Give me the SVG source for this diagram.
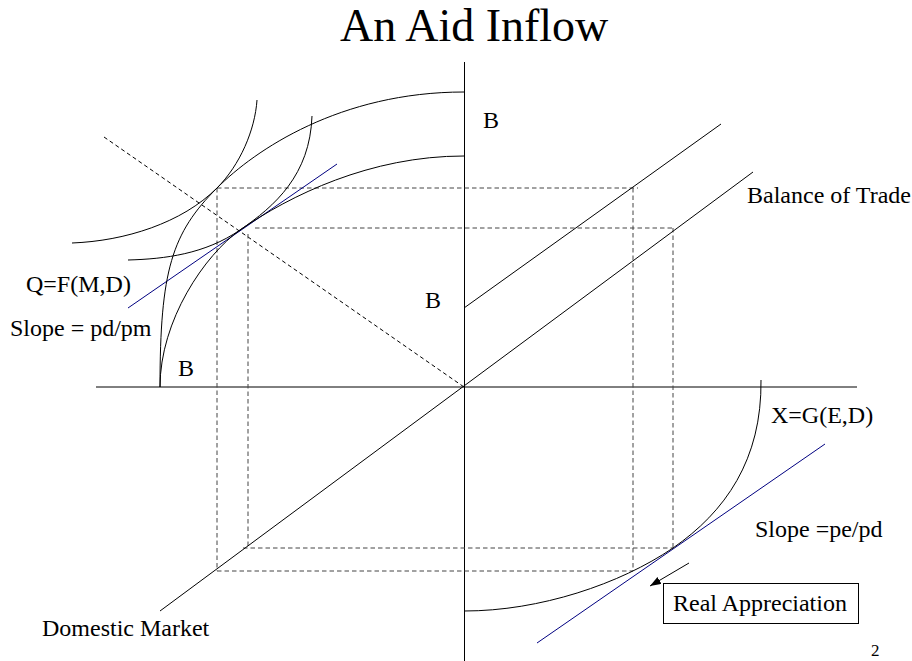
<svg xmlns="http://www.w3.org/2000/svg" width="912" height="661" viewBox="0 0 912 661">
<style>
.t{font-family:"Liberation Serif","Times New Roman",serif;font-size:24px;fill:#000}
.ln{fill:none;stroke:#000;stroke-width:1}
.bl{fill:none;stroke:#000080;stroke-width:1}
.ds{fill:none;stroke:#444;stroke-width:1;stroke-dasharray:4.5,3}
.dk{fill:none;stroke:#000;stroke-width:1;stroke-dasharray:4,3}
</style>
<defs>
<marker id="ah" markerWidth="12" markerHeight="10" refX="11" refY="4" orient="auto" markerUnits="userSpaceOnUse">
<path d="M0,0 L11,4 L0,8 Z" fill="#000"/>
</marker>
</defs>
<rect width="912" height="661" fill="#fff"/>
<text id="title" x="340" y="41" class="t" style="font-size:46px">An Aid Inflow</text>
<g id="connectors">
<g id="axes">
<line class="ln" x1="464.5" y1="62" x2="464.5" y2="661"/>
<line class="ln" x1="96" y1="387" x2="857" y2="387"/>
</g>
<g id="guides">
<line class="dk" x1="104" y1="137" x2="464" y2="387"/>
<path class="ds" d="M217,188 H638 M217,188 V571 M217,571 H633 M633,188 V571"/>
<path class="ds" d="M255,228 H673 M248,234 V548 M243,548 H673 M673,228 V548"/>
</g>
<g id="trade-lines">
<line class="ln" x1="464" y1="308" x2="721" y2="124"/>
<line class="ln" x1="160" y1="611" x2="753" y2="172"/>
</g>
<g id="tangents">
<line class="bl" x1="128" y1="308" x2="337" y2="164"/>
<line class="bl" x1="537" y1="643" x2="825" y2="444"/>
</g>
<line id="arrow" class="ln" x1="689" y1="563" x2="650" y2="586" marker-end="url(#ah)"/>
</g>
<g id="ppf-outer"><path class="ln" d="M160,387 C160,270 172,233 217,188 C255,150 340,92 464,92"/></g>
<g id="ppf-inner"><path class="ln" d="M160,387 C160,320 205,255 240,230 C290,195.5 370,156 464,156"/></g>
<g id="ic1"><path class="ln" d="M72,243 C125,241 182,223 217,188 C240,165 255,130 257,100"/></g>
<g id="ic2"><path class="ln" d="M128,260 C165,259 205,254 240,230 C275,206 310,175 312,116"/></g>
<g id="export-curve"><path class="ln" d="M761,380 C762,460 725,512 673,548 C620,584 540,611 464,611"/></g>
<g id="labels">
<text class="t" x="483" y="128">B</text>
<text class="t" x="425" y="308">B</text>
<text class="t" x="178" y="376">B</text>
<text class="t" x="26" y="292">Q=F(M,D)</text>
<text class="t" x="10" y="336">Slope = pd/pm</text>
<text class="t" x="747" y="203">Balance of Trade</text>
<text class="t" x="771" y="423">X=G(E,D)</text>
<text class="t" x="755" y="537">Slope =pe/pd</text>
<text class="t" x="42" y="636">Domestic Market</text>
<text class="t" x="871" y="656" style="font-size:17px">2</text>
</g>
<g id="real-appreciation">
<rect x="663.5" y="583.5" width="195" height="40" fill="none" stroke="#000" stroke-width="1"/>
<text class="t" x="673" y="611">Real Appreciation</text>
</g>
</svg>
